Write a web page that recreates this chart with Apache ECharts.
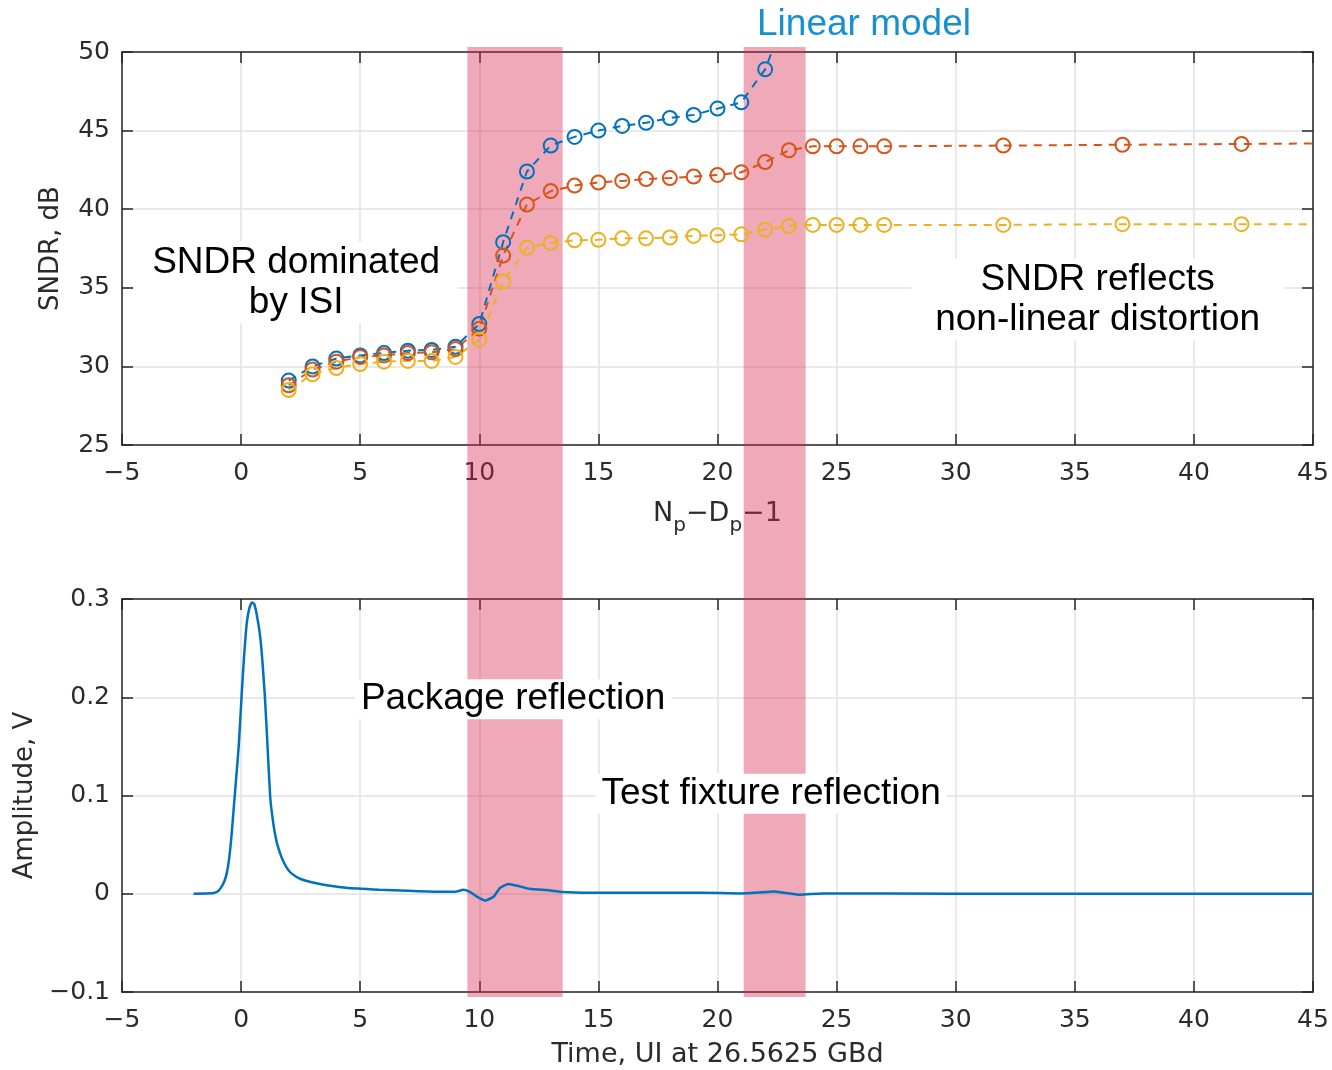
<!DOCTYPE html>
<html><head><meta charset="utf-8">
<script src="https://cdn.jsdelivr.net/npm/echarts/dist/echarts.min.js"></script>
<style>html,body{margin:0;padding:0;background:#fff}#c{width:1332px;height:1070px}</style>
</head><body><div id="c"></div>
<script>
// ---------- data ----------
const xTicks = [-5, 45, 5];          // min, max, interval (both panels)
const sndrTicks = [25, 50, 5];
const ampTicks = [-0.1, 0.3, 0.1];

const npBlue = [2,3,4,5,6,7,8,9,10,11,12,13,14,15,16,17,18,19,20,21,22,23];
const sndrBlue = [29.1,30.0,30.5,30.7,30.85,31.0,31.05,31.25,32.7,37.9,42.4,44.05,44.6,45.0,45.3,45.5,45.8,46.0,46.4,46.8,48.9,52.8];

const npOrange = [2,3,4,5,6,7,8,9,10,11,12,13,14,15,16,17,18,19,20,21,22,23,24,25,26,27,32,37,42,47];
const sndrOrange = [28.8,29.8,30.3,30.6,30.7,30.85,30.9,31.1,32.4,37.05,40.3,41.15,41.5,41.7,41.8,41.92,41.98,42.08,42.18,42.35,43.0,43.75,44.0,44.0,44.0,44.0,44.05,44.1,44.15,44.2];

const npYellow = [2,3,4,5,6,7,8,9,10,11,12,13,14,15,16,17,18,19,20,21,22,23,24,25,26,27,32,37,42,47];
const sndrYellow = [28.5,29.5,29.9,30.15,30.3,30.35,30.35,30.6,31.7,35.4,37.55,37.85,38.02,38.05,38.15,38.15,38.2,38.3,38.35,38.4,38.7,38.93,39.0,39.0,39.0,39.0,39.0,39.05,39.05,39.05];

const pulseT = [-2,-1.2,-1.0,-0.85,-0.7,-0.6,-0.5,-0.4,-0.3,-0.2,-0.1,0.03,0.12,0.24,0.35,0.45,0.55,0.65,0.8,0.9,1.0,1.1,1.22,1.35,1.5,1.7,1.9,2.1,2.5,3.1,4.4,5.8,7,8.35,9.0,9.33,9.6,9.9,10.24,10.6,10.87,11.22,11.7,12.1,12.97,13.5,14.65,19.3,20.95,21.7,22.35,22.9,23.47,24.4,30,45];
const pulseV = [0,0.0005,0.002,0.006,0.013,0.021,0.036,0.06,0.09,0.12,0.15,0.205,0.24,0.276,0.291,0.2965,0.295,0.285,0.262,0.235,0.200,0.155,0.099,0.072,0.052,0.037,0.027,0.021,0.015,0.011,0.006,0.004,0.003,0.002,0.002,0.004,0.002,-0.003,-0.007,-0.003,0.006,0.010,0.0075,0.005,0.0034,0.0017,0.001,0.001,0.0003,0.0012,0.0023,0.0007,-0.001,0.0003,0,0];

const bandRanges = [[9.5, 13.5], [21.1, 23.7]];

const annTexts = ['SNDR dominated\nby ISI', 'SNDR reflects\nnon-linear distortion', 'Linear model', 'Package reflection', 'Test fixture reflection'];
const annAt = [[2.31, 35.33, 0], [35.96, 34.25, 0], [26.15, 51.7, 0], [11.42, 0.198, 1], [22.25, 0.1018, 1]];

// ---------- styles ----------
const C_BLUE = '#0072BD', C_ORANGE = '#D95319', C_YELLOW = '#EDB120';
const AX = '#262626', GRID = '#e2e2e2', TXT = '#2b2b2b';
const TICKFONT = 'DejaVu Sans';
const minus = v => String(v).replace('-', '\u2212');

function pair(xs, ys) { return xs.map((x, i) => [x, ys[i]]); }

function xAx(gi, pos, main, extra) {
  return Object.assign({
    gridIndex: gi, type: 'value', position: pos,
    min: xTicks[0], max: xTicks[1], interval: xTicks[2],
    axisLine: { show: true, onZero: false, lineStyle: { color: AX, width: 1.5 } },
    axisTick: { show: true, inside: true, length: 11, lineStyle: { color: AX, width: 1.5 } },
    axisLabel: { show: main, fontFamily: TICKFONT, fontSize: 25, color: TXT, margin: 16, formatter: minus },
    splitLine: { show: main, lineStyle: { color: GRID, width: 1.5 } },
    z: 0
  }, extra || {});
}
function yAx(gi, pos, main, ticks, extra) {
  return Object.assign({
    gridIndex: gi, type: 'value', position: pos,
    min: ticks[0], max: ticks[1], interval: ticks[2],
    axisLine: { show: true, onZero: false, lineStyle: { color: AX, width: 1.5 } },
    axisTick: { show: true, inside: true, length: 11, lineStyle: { color: AX, width: 1.5 } },
    axisLabel: { show: main, fontFamily: TICKFONT, fontSize: 25, color: TXT, margin: 12, formatter: minus },
    splitLine: { show: main, lineStyle: { color: GRID, width: 1.5 } },
    z: 0
  }, extra || {});
}

function sndrSeries(xs, ys, color) {
  return {
    type: 'line', xAxisIndex: 0, yAxisIndex: 0, data: pair(xs, ys),
    symbol: 'circle', symbolSize: 14, clip: true,
    itemStyle: { color: 'rgba(0,0,0,0)', borderColor: color, borderWidth: 2 },
    lineStyle: { color: color, width: 2, type: [8, 7] },
    emphasis: { disabled: true }, z: 2
  };
}

const chart = echarts.init(document.getElementById('c'), null, { renderer: 'canvas' });
chart.setOption({
  animation: false,
  backgroundColor: '#fff',
  grid: [
    { left: 122, top: 52, width: 1191, height: 393 },
    { left: 122, top: 599, width: 1191, height: 393 }
  ],
  xAxis: [
    xAx(0, 'bottom', true, {
      name: '{m|N}{s|p}{m|\u2212D}{s|p}{m|\u22121}', nameLocation: 'middle', nameGap: 46,
      nameTextStyle: {
        color: TXT, rich: {
          m: { fontFamily: TICKFONT, fontSize: 27, color: TXT },
          s: { fontFamily: TICKFONT, fontSize: 20, color: TXT, padding: [25, 0, 0, 0] }
        }
      }
    }),
    xAx(0, 'top', false),
    xAx(1, 'bottom', true, {
      name: 'Time, UI at 26.5625 GBd', nameLocation: 'middle', nameGap: 49,
      nameTextStyle: { fontFamily: TICKFONT, fontSize: 27, color: TXT }
    }),
    xAx(1, 'top', false)
  ],
  yAxis: [
    yAx(0, 'left', true, sndrTicks, {
      name: 'SNDR, dB', nameLocation: 'middle', nameGap: 58,
      nameTextStyle: { fontFamily: TICKFONT, fontSize: 26, color: TXT }
    }),
    yAx(0, 'right', false, sndrTicks),
    yAx(1, 'left', true, ampTicks, {
      name: 'Amplitude, V', nameLocation: 'middle', nameGap: 81,
      nameTextStyle: { fontFamily: TICKFONT, fontSize: 26, color: TXT }
    }),
    yAx(1, 'right', false, ampTicks)
  ],
  series: [
    sndrSeries(npBlue, sndrBlue, C_BLUE),
    sndrSeries(npOrange, sndrOrange, C_ORANGE),
    sndrSeries(npYellow, sndrYellow, C_YELLOW),
    {
      type: 'line', xAxisIndex: 2, yAxisIndex: 2, data: pair(pulseT, pulseV),
      showSymbol: false, symbol: 'none', smooth: 0.15, clip: true,
      lineStyle: { color: C_BLUE, width: 2.5 }, emphasis: { disabled: true }, z: 2
    }
  ]
});

// ---------- annotations placed through the axes ----------
const yTop = chart.convertToPixel({ gridIndex: 0 }, [0, sndrTicks[1]])[1] - 5;
const yBot = chart.convertToPixel({ gridIndex: 1 }, [0, ampTicks[0]])[1] + 5;
const els = [];
bandRanges.forEach(r => {
  const x0 = chart.convertToPixel({ gridIndex: 0 }, [r[0], 30])[0];
  const x1 = chart.convertToPixel({ gridIndex: 0 }, [r[1], 30])[0];
  els.push({ type: 'rect', z: 1, silent: true,
    shape: { x: x0, y: yTop, width: x1 - x0, height: yBot - yTop },
    style: { fill: 'rgba(214,40,80,0.40)' } });
});
const annPad = [[0, 18, 2, 18], [0, 24, 2, 24], [0, 0, 0, 0], [0, 6, 0, 6], [0, 6, 0, 6]];
const annColor = ['#000', '#000', '#1790cf', '#000', '#000'];
const annBg = ['#fff', '#fff', 'transparent', '#fff', '#fff'];
annTexts.forEach((t, i) => {
  const a = annAt[i];
  const p = chart.convertToPixel({ gridIndex: a[2] }, [a[0], a[1]]);
  els.push({ type: 'text', z: 100, silent: true, x: p[0], y: p[1],
    style: { text: t, font: '37px "Liberation Sans", Arial, sans-serif', fill: annColor[i],
      align: 'center', verticalAlign: 'middle', textAlign: 'center', textVerticalAlign: 'middle',
      lineHeight: 40, backgroundColor: annBg[i], padding: annPad[i] } });
});
chart.setOption({ graphic: { elements: els } });
</script>
</body></html>
